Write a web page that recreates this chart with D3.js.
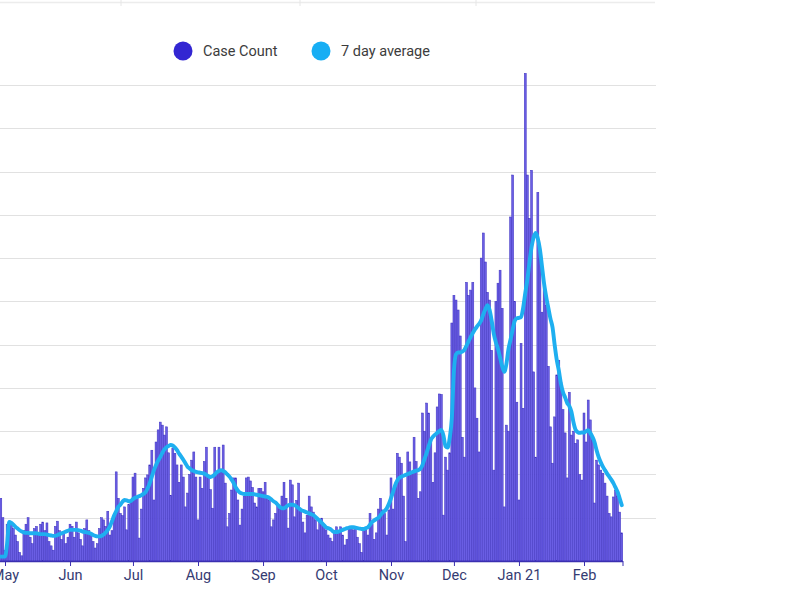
<!DOCTYPE html>
<html>
<head>
<meta charset="utf-8">
<script src="https://cdn.jsdelivr.net/npm/d3@7"></script>
<style>
    html, body { margin: 0; padding: 0; background: #fff; }
    svg { display: block; }
</style>
</head>
<body>
<svg id="chart" width="800" height="600"></svg>
<script>
"use strict";

// First day of data (UTC), one value per day after that
const startDate = Date.UTC(2020, 3, 28);

// Daily case counts, Apr 28 2020 - Feb 19 2021
const caseCounts = [
    // Apr 28-30
    60, 145, 100,
    // May
    25, 85, 80, 90, 75, 60, 45, 20, 12, 70, 85, 100, 55, 40, 75, 80, 60, 85, 90, 70,
    88, 45, 35, 25, 80, 92, 70, 50, 65, 40, 55,
    // Jun
    85, 80, 55, 90, 65, 50, 35, 75, 95, 70, 60, 45, 30, 40, 75, 100, 95, 80, 115, 60,
    70, 100, 206, 145, 110, 105, 125, 72, 130, 140,
    // Jul
    194, 203, 148, 53, 120, 168, 192, 199, 222, 256, 141, 275, 303, 321, 314, 291, 310, 250, 152, 261,
    249, 222, 182, 222, 194, 125, 157, 200, 233, 252, 194,
    // Aug
    95, 194, 168, 230, 263, 194, 165, 122, 263, 206, 263, 206, 268, 180, 79, 110, 164, 192, 192, 141,
    83, 120, 150, 192, 194, 185, 170, 134, 125, 168, 168,
    // Sep
    160, 182, 145, 140, 79, 95, 110, 129, 120, 150, 182, 145, 76, 187, 176, 102, 140, 180, 118, 90,
    65, 106, 150, 125, 113, 95, 72, 90, 99, 85,
    // Oct
    72, 60, 53, 45, 65, 79, 70, 79, 60, 37, 50, 75, 79, 72, 79, 55, 40, 20, 70, 72,
    60, 110, 85, 50, 65, 120, 145, 118, 110, 60, 118,
    // Nov
    192, 120, 170, 249, 240, 226, 150, 45, 252, 229, 200, 286, 230, 145, 160, 342, 300, 365, 342, 280,
    182, 250, 356, 386, 385, 106, 240, 210, 250, 550,
    // Dec
    614, 603, 580, 520, 286, 240, 644, 614, 626, 644, 400, 330, 252, 700, 758, 691, 621, 603, 487, 210,
    600, 642, 672, 584, 125, 314, 300, 795, 892, 600, 367,
    // Jan
    141, 503, 353, 1127, 892, 792, 903, 437, 240, 852, 700, 575, 642, 591, 450, 310, 226, 333, 430, 464,
    413, 350, 296, 192, 390, 291, 300, 272, 280, 200, 187,
    // Feb 1-19
    342, 275, 372, 326, 280, 134, 233, 222, 210, 203, 180, 150, 110, 102, 148, 164, 150, 113, 65
];

// 7 day average as drawn, same days
const sevenDayAverage = [
    // Apr 28-30
    10, 10, 10,
    // May
    10, 40, 90, 88, 84, 79, 75, 71, 68, 66, 65, 65, 64, 64, 64, 64, 63, 62, 62, 62,
    61, 60, 59, 58, 58, 60, 62, 64, 66, 68, 70,
    // Jun
    72, 72, 72, 72, 71, 70, 68, 67, 66, 65, 63, 60, 58, 57, 57, 58, 61, 66, 72, 80,
    92, 105, 115, 125, 130, 137, 141, 140, 138, 139,
    // Jul
    143, 146, 148, 150, 152, 155, 159, 168, 180, 195, 210, 222, 232, 240, 250, 258, 263, 266, 268, 267,
    262, 256, 248, 241, 234, 226, 218, 214, 210, 208, 206,
    // Aug
    205, 204, 203, 202, 199, 196, 194, 196, 200, 205, 208, 210, 208, 205, 200, 195, 188, 180, 170, 163,
    158, 156, 155, 155, 155, 155, 155, 154, 153, 152, 151,
    // Sep
    150, 149, 148, 146, 142, 138, 135, 130, 125, 122, 122, 125, 129, 130, 130, 129, 126, 122, 118, 116,
    114, 112, 110, 108, 106, 102, 97, 93, 88, 83,
    // Oct
    78, 76, 74, 70, 67, 67, 68, 70, 72, 74, 76, 77, 78, 78, 77, 76, 75, 74, 74, 76,
    78, 84, 90, 94, 97, 100, 106, 112, 116, 122, 132,
    // Nov
    145, 160, 175, 186, 192, 195, 197, 199, 201, 203, 205, 207, 209, 210, 213, 222, 236, 250, 266, 280,
    287, 292, 296, 300, 303, 290, 265, 262, 285, 330,
    // Dec
    440, 478, 482, 482, 484, 488, 498, 508, 518, 527, 535, 542, 548, 556, 570, 582, 591, 580, 555, 525,
    505, 490, 470, 450, 437, 455, 490, 512, 535, 555, 561,
    // Jan
    562, 564, 585, 619, 650, 690, 725, 748, 758, 745, 720, 680, 640, 610, 585, 560, 540, 500, 465, 440,
    410, 390, 378, 365, 358, 345, 320, 303, 298, 296, 297,
    // Feb 1-19
    297, 300, 302, 296, 287, 275, 256, 240, 228, 218, 210, 202, 195, 188, 180, 170, 160, 145, 129
];

// Month ticks and their labels
const monthTicks = [
    Date.UTC(2020, 4, 1), Date.UTC(2020, 5, 1), Date.UTC(2020, 6, 1), Date.UTC(2020, 7, 1),
    Date.UTC(2020, 8, 1), Date.UTC(2020, 9, 1), Date.UTC(2020, 10, 1), Date.UTC(2020, 11, 1),
    Date.UTC(2021, 0, 1), Date.UTC(2021, 1, 1)
];
const monthLabels = ["May", "Jun", "Jul", "Aug", "Sep", "Oct", "Nov", "Dec", "Jan 21", "Feb"];

// Horizontal grid values
const gridValues = [100, 200, 300, 400, 500, 600, 700, 800, 900, 1000, 1100];

// Legend entries
const legendNames = ["Case Count", "7 day average"];

const barColor = "#6a5ee4",
    barEdge = "#3d30bf",
    lineColor = "#1eaff0",
    legendColors = ["#3326d2", "#17aef4"];

const days = caseCounts.map((c, i) => d3.utcDay.offset(new Date(startDate), i));

const svg = d3.select("#chart");

const xScale = d3.scaleUtc()
        .domain([new Date(Date.UTC(2020, 4, 1)), new Date(Date.UTC(2021, 1, 1))])
        .range([5, 584]),
    yScale = d3.scaleLinear()
        .domain([0, 1100])
        .range([561, 85]);

const axisEnd = 623,
    gridEnd = 656;

// Faint strip at the very top (edge of the page above the chart)
const topStrip = svg.append("g");
topStrip.append("line")
    .attr("x1", 0).attr("x2", 655)
    .attr("y1", 2.5).attr("y2", 2.5)
    .attr("stroke", "#ececec")
    .attr("stroke-width", 1.5);
topStrip.selectAll("line.sep")
    .data([121, 300, 476])
    .join("line")
    .attr("class", "sep")
    .attr("x1", (d) => d).attr("x2", (d) => d)
    .attr("y1", 0).attr("y2", 6)
    .attr("stroke", "#e6e6e6");

// Grid lines
svg.append("g")
    .selectAll("line")
    .data(gridValues)
    .join("line")
    .attr("x1", 0)
    .attr("x2", gridEnd)
    .attr("y1", (d) => Math.round(yScale(d)) + 0.5)
    .attr("y2", (d) => Math.round(yScale(d)) + 0.5)
    .attr("stroke", "#e1e1e1")
    .attr("stroke-width", 1);

// Daily bars
const barWidth = 1.95;
svg.append("g")
    .selectAll("rect")
    .data(caseCounts)
    .join("rect")
    .attr("x", (d, i) => xScale(days[i]) - barWidth / 2)
    .attr("y", (d) => yScale(d))
    .attr("width", barWidth)
    .attr("height", (d) => yScale(0) - yScale(d))
    .attr("fill", barColor)
    .attr("stroke", barEdge)
    .attr("stroke-width", 0.5);

// 7 day average line
const avgLine = d3.line()
    .x((d, i) => xScale(days[i]))
    .y((d) => yScale(d))
    .curve(d3.curveMonotoneX);

svg.append("path")
    .datum(sevenDayAverage)
    .attr("d", avgLine)
    .attr("fill", "none")
    .attr("stroke", lineColor)
    .attr("stroke-width", 3.9)
    .attr("stroke-linejoin", "round")
    .attr("stroke-linecap", "round");

// X axis
const xAxis = d3.axisBottom(xScale)
    .tickValues(monthTicks.map((t) => new Date(t)))
    .tickFormat((d, i) => monthLabels[i])
    .tickSize(5)
    .tickSizeOuter(0);

const xAxisG = svg.append("g")
    .attr("transform", `translate(0,${yScale(0)})`)
    .call(xAxis);

xAxisG.select(".domain")
    .attr("d", `M0,0.5H${axisEnd}`)
    .attr("stroke", "#3a2fb0")
    .attr("stroke-width", 1.5);
xAxisG.selectAll(".tick line")
    .attr("stroke", "#3a2fb0");
xAxisG.append("line")
    .attr("x1", axisEnd).attr("x2", axisEnd)
    .attr("y1", 0).attr("y2", 5)
    .attr("stroke", "#3a2fb0");
xAxisG.selectAll(".tick text")
    .attr("y", 9)
    .attr("fill", "#353b72")
    .style("font-family", "Roboto, 'Liberation Sans', sans-serif")
    .style("font-size", "14.5px");

// Legend
const legend = svg.append("g")
    .attr("transform", "translate(0,51)");
const legendItems = legend.selectAll("g")
    .data(legendNames)
    .join("g")
    .attr("transform", (d, i) => `translate(${[183, 321][i]},0)`);
legendItems.append("circle")
    .attr("r", 9.5)
    .attr("fill", (d, i) => legendColors[i]);
legendItems.append("text")
    .attr("x", 20)
    .attr("dy", "0.35em")
    .attr("fill", "#3c3c3c")
    .style("font-family", "Roboto, 'Liberation Sans', sans-serif")
    .style("font-size", "14.5px")
    .text((d) => d);
</script>
</body>
</html>
